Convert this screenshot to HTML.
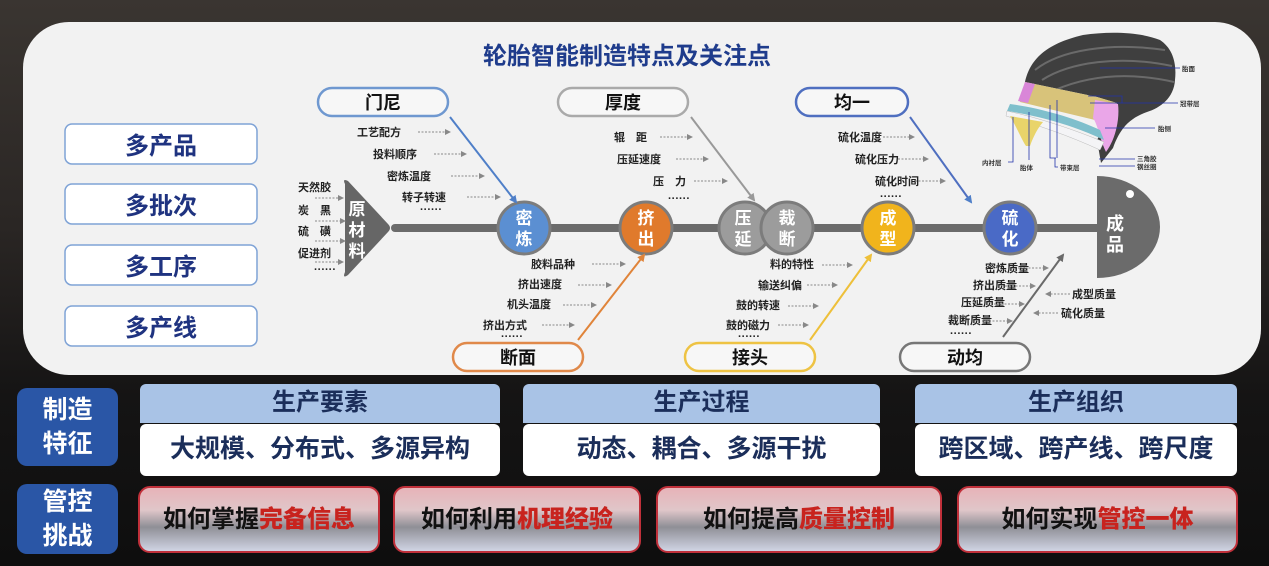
<!DOCTYPE html>
<html><head><meta charset="utf-8"><style>
html,body{margin:0;padding:0}
body{width:1269px;height:566px;overflow:hidden;background:linear-gradient(180deg,#3a3531 0%,#2a2624 40%,#151414 70%,#0e0e0e 100%);position:relative;font-family:"Liberation Sans","Noto Sans CJK SC",sans-serif}
svg text{font-family:"Liberation Sans","Noto Sans CJK SC",sans-serif;font-weight:bold}
.lbl{position:absolute;background:#2a56a6;border-radius:10px;color:#fff;font-size:25px;font-weight:bold;text-align:center;line-height:34px;display:flex;align-items:center;justify-content:center}
.hd{position:absolute;background:#a9c3e6;border-radius:6px 6px 0 0;color:#1b2e5a;font-size:24px;font-weight:bold;text-align:center;line-height:38px}
.vl{position:absolute;background:#fff;border-radius:6px;color:#1b2e5a;font-size:25px;font-weight:bold;text-align:center;line-height:50px}
.rd{position:absolute;border:2px solid #c0303a;border-radius:12px;background:linear-gradient(180deg,#e7b3b8 0%,#e0c6c9 35%,#8f8f96 62%,#d0d4e4 100%);font-size:24px;font-weight:bold;text-align:center;line-height:64px;color:#111;box-sizing:border-box}
.rd b{color:#c8231e}
</style></head><body>
<svg width="1269" height="566" style="position:absolute;left:0;top:0">
<defs>
<marker id="ab" markerWidth="8" markerHeight="8" refX="6" refY="4" orient="auto" markerUnits="userSpaceOnUse"><path d="M0,0 L8,4 L0,8 z" fill="#4f7fc8"/></marker>
<marker id="ag" markerWidth="8" markerHeight="8" refX="6" refY="4" orient="auto" markerUnits="userSpaceOnUse"><path d="M0,0 L8,4 L0,8 z" fill="#999"/></marker>
<marker id="ao" markerWidth="8" markerHeight="8" refX="6" refY="4" orient="auto" markerUnits="userSpaceOnUse"><path d="M0,0 L8,4 L0,8 z" fill="#e0843a"/></marker>
<marker id="ay" markerWidth="8" markerHeight="8" refX="6" refY="4" orient="auto" markerUnits="userSpaceOnUse"><path d="M0,0 L8,4 L0,8 z" fill="#eec03a"/></marker>
<marker id="ad" markerWidth="8" markerHeight="8" refX="6" refY="4" orient="auto" markerUnits="userSpaceOnUse"><path d="M0,0 L8,4 L0,8 z" fill="#6a6a6a"/></marker>
<marker id="as" markerWidth="6" markerHeight="6" refX="5" refY="3" orient="auto" markerUnits="userSpaceOnUse"><path d="M0,0 L6,3 L0,6 z" fill="#888"/></marker>
</defs>
<rect x="23" y="22" width="1238" height="353" rx="46" fill="#f2f2f2"/>
<text x="627" y="64" font-size="24" fill="#1f3c8c" text-anchor="middle">轮胎智能制造特点及关注点</text>
<g fill="#fff" stroke="#7fa3d6" stroke-width="1.5">
<rect x="65" y="124" width="192" height="40" rx="7"/><rect x="65" y="184" width="192" height="40" rx="7"/>
<rect x="65" y="245" width="192" height="40" rx="7"/><rect x="65" y="306" width="192" height="40" rx="7"/></g>
<g font-size="24" fill="#1f3380" text-anchor="middle">
<text x="161" y="154">多产品</text><text x="161" y="214">多批次</text><text x="161" y="275">多工序</text><text x="161" y="336">多产线</text></g>
<line x1="395" y1="228" x2="1100" y2="228" stroke="#6b6b6b" stroke-width="8" stroke-linecap="round"/>
<path d="M345,184 Q342,178 348,181 L388,224 Q392,228 388,232 L348,275 Q342,279 345,272 Z" fill="#666"/>
<g font-size="17" fill="#fff" text-anchor="middle"><text x="357" y="215">原</text><text x="357" y="236">材</text><text x="357" y="257">料</text></g>
<path d="M1097,176 A63,51 0 0 1 1097,278 Z" fill="#6b6b6b"/>
<circle cx="1130" cy="194" r="4" fill="#fff"/>
<g font-size="18" fill="#fff" text-anchor="middle"><text x="1115" y="230">成</text><text x="1115" y="251">品</text></g>
<g stroke="#7c7c7c" stroke-width="3">
<circle cx="524" cy="228" r="26" fill="#5b8fd2"/>
<circle cx="646" cy="228" r="26" fill="#e07a2c"/>
<circle cx="745" cy="228" r="26" fill="#9c9c9c"/>
<circle cx="787" cy="228" r="26" fill="#9c9c9c"/>
<circle cx="888" cy="228" r="26" fill="#f1b41c"/>
<circle cx="1010" cy="228" r="26" fill="#4a6ac6"/></g>
<g font-size="17" fill="#fff" text-anchor="middle">
<text x="524" y="224">密</text><text x="524" y="245">炼</text>
<text x="646" y="224">挤</text><text x="646" y="245">出</text>
<text x="743" y="224">压</text><text x="743" y="245">延</text>
<text x="787" y="224">裁</text><text x="787" y="245">断</text>
<text x="888" y="224">成</text><text x="888" y="245">型</text>
<text x="1010" y="224">硫</text><text x="1010" y="245">化</text></g>
<g fill="#f7f7f7" stroke-width="2.5">
<rect x="318" y="88" width="130" height="28" rx="14" stroke="#6f98d0"/>
<rect x="558" y="88" width="130" height="28" rx="14" stroke="#aaa"/>
<rect x="796" y="88" width="112" height="28" rx="14" stroke="#4f6fc0"/>
<rect x="453" y="343" width="130" height="28" rx="14" stroke="#e0894a"/>
<rect x="685" y="343" width="130" height="28" rx="14" stroke="#eec344"/>
<rect x="900" y="343" width="130" height="28" rx="14" stroke="#777"/></g>
<g font-size="18" fill="#111" text-anchor="middle">
<text x="383" y="109">门尼</text><text x="623" y="109">厚度</text><text x="852" y="109">均一</text>
<text x="518" y="364">断面</text><text x="750" y="364">接头</text><text x="965" y="364">动均</text></g>
<g stroke-width="2" fill="none">
<line x1="450" y1="117" x2="516" y2="202" stroke="#4f7fc8" marker-end="url(#ab)"/>
<line x1="691" y1="117" x2="754" y2="200" stroke="#999" marker-end="url(#ag)"/>
<line x1="910" y1="117" x2="971" y2="202" stroke="#4f6fc0" marker-end="url(#ab)"/>
<line x1="578" y1="340" x2="644" y2="255" stroke="#e0843a" marker-end="url(#ao)"/>
<line x1="810" y1="340" x2="871" y2="255" stroke="#eec03a" marker-end="url(#ay)"/>
<line x1="1003" y1="337" x2="1063" y2="255" stroke="#6a6a6a" marker-end="url(#ad)"/></g>
<g font-size="11" fill="#222">
<text x="357" y="136">工艺配方</text><text x="373" y="158">投料顺序</text><text x="387" y="180">密炼温度</text><text x="402" y="201">转子转速</text>
<text x="420" y="213">······</text>
<text x="298" y="191">天然胶</text><text x="298" y="214">炭　黑</text><text x="298" y="235">硫　磺</text><text x="298" y="257">促进剂</text><text x="314" y="273">······</text>
<text x="614" y="141">辊　距</text><text x="617" y="163">压延速度</text><text x="653" y="185">压　力</text><text x="668" y="202">······</text>
<text x="838" y="141">硫化温度</text><text x="855" y="163">硫化压力</text><text x="875" y="185">硫化时间</text><text x="880" y="200">······</text>
<text x="531" y="268">胶料品种</text><text x="518" y="288">挤出速度</text><text x="507" y="308">机头温度</text><text x="483" y="329">挤出方式</text><text x="501" y="340">······</text>
<text x="770" y="268">料的特性</text><text x="758" y="289">输送纠偏</text><text x="736" y="309">鼓的转速</text><text x="726" y="329">鼓的磁力</text><text x="738" y="340">······</text>
<text x="985" y="272">密炼质量</text><text x="973" y="289">挤出质量</text><text x="961" y="306">压延质量</text><text x="948" y="324">裁断质量</text><text x="950" y="337">······</text>
<text x="1072" y="298">成型质量</text><text x="1061" y="317">硫化质量</text></g>
<g stroke="#888" stroke-width="1" stroke-dasharray="2,1.5" marker-end="url(#as)">
<line x1="418" y1="132" x2="450" y2="132"/><line x1="434" y1="154" x2="466" y2="154"/><line x1="451" y1="176" x2="484" y2="176"/><line x1="467" y1="197" x2="500" y2="197"/>
<line x1="315" y1="198" x2="343" y2="198"/><line x1="315" y1="221" x2="345" y2="221"/><line x1="315" y1="241" x2="345" y2="241"/><line x1="315" y1="262" x2="343" y2="262"/>
<line x1="660" y1="137" x2="692" y2="137"/><line x1="676" y1="159" x2="708" y2="159"/><line x1="694" y1="181" x2="727" y2="181"/>
<line x1="883" y1="137" x2="914" y2="137"/><line x1="898" y1="159" x2="928" y2="159"/><line x1="915" y1="181" x2="945" y2="181"/>
<line x1="592" y1="264" x2="625" y2="264"/><line x1="578" y1="285" x2="611" y2="285"/><line x1="563" y1="305" x2="596" y2="305"/><line x1="542" y1="325" x2="574" y2="325"/>
<line x1="822" y1="265" x2="852" y2="265"/><line x1="807" y1="285" x2="837" y2="285"/><line x1="788" y1="306" x2="818" y2="306"/><line x1="778" y1="325" x2="808" y2="325"/>
<line x1="1018" y1="268" x2="1048" y2="268"/><line x1="1005" y1="286" x2="1035" y2="286"/><line x1="994" y1="304" x2="1024" y2="304"/><line x1="982" y1="321" x2="1012" y2="321"/>
<line x1="1070" y1="294" x2="1046" y2="294"/><line x1="1058" y1="313" x2="1034" y2="313"/></g>
<!-- tire -->
<path d="M1025,82 C1030,60 1045,44 1083,35 C1110,31 1140,32 1160,40 C1172,48 1177,62 1175,80 C1174,98 1160,108 1147,112 C1130,118 1120,128 1113,148 L1101,163 L1097,140 L1117,103 L1097,97 Z" fill="#3f3f3f"/>
<g stroke="#6a6a6a" stroke-width="2" fill="none">
<path d="M1035,70 C1060,50 1110,42 1165,50"/><path d="M1042,80 C1070,62 1120,55 1172,66"/><path d="M1055,90 C1090,75 1130,72 1174,82"/></g>
<path d="M1025,82 L1097,97 L1117,103 L1113,110 L1095,120 L1020,102 Z" fill="#d8c37a"/>
<path d="M1025,82 L1035,84 L1028,103 L1018,101 Z" fill="#d986d8"/>
<path d="M1095,100 L1118,104 C1120,120 1115,140 1106,152 C1100,140 1098,125 1093,118 Z" fill="#eaa6e8"/>
<path d="M1010,104 C1040,108 1075,118 1100,130 L1104,140 C1075,126 1040,116 1007,111 Z" fill="#7fbfcc"/>
<path d="M1007,111 C1040,118 1075,130 1104,142 L1100,150 C1070,136 1035,124 1006,116 Z" fill="#f4f4f6" stroke="#bbb" stroke-width="0.5"/>
<path d="M1010,116 C1018,130 1022,140 1026,146 L1030,146 C1034,135 1038,128 1043,122 Z" fill="#e9d46a"/>
<g stroke="#2233aa" stroke-width="0.8" fill="none">
<path d="M1100,68 H1180"/><path d="M1090,103 H1178 M1088,96 H1122 V103"/><path d="M1105,128 H1155"/>
<path d="M1099,159 H1135"/><path d="M1099,166 H1135"/>
<path d="M1013,117 V162 H1008"/><path d="M1029,112 V160"/><path d="M1050,105 V158 H1056 M1057,100 V158"/><path d="M1055,158 V167 H1058"/></g>
<g font-size="6.5" fill="#333">
<text x="1182" y="71">胎面</text><text x="1180" y="106">冠带层</text><text x="1158" y="131">胎侧</text>
<text x="1137" y="161">三角胶</text><text x="1137" y="169">钢丝圈</text>
<text x="982" y="165">内衬层</text><text x="1020" y="170">胎体</text><text x="1060" y="170">带束层</text></g>
</svg>
<div class="lbl" style="left:17px;top:388px;width:101px;height:78px">制造<br>特征</div>
<div class="lbl" style="left:17px;top:484px;width:101px;height:70px">管控<br>挑战</div>
<div class="hd" style="left:140px;top:384px;width:360px;height:39px">生产要素</div>
<div class="vl" style="left:140px;top:424px;width:360px;height:52px">大规模、分布式、多源异构</div>
<div class="hd" style="left:523px;top:384px;width:357px;height:39px">生产过程</div>
<div class="vl" style="left:523px;top:424px;width:357px;height:52px">动态、耦合、多源干扰</div>
<div class="hd" style="left:915px;top:384px;width:322px;height:39px">生产组织</div>
<div class="vl" style="left:915px;top:424px;width:322px;height:52px">跨区域、跨产线、跨尺度</div>
<div class="rd" style="left:138px;top:486px;width:242px;height:67px">如何掌握<b>完备信息</b></div>
<div class="rd" style="left:393px;top:486px;width:248px;height:67px">如何利用<b>机理经验</b></div>
<div class="rd" style="left:656px;top:486px;width:286px;height:67px">如何提高<b>质量控制</b></div>
<div class="rd" style="left:957px;top:486px;width:281px;height:67px">如何实现<b>管控一体</b></div>
</body></html>
